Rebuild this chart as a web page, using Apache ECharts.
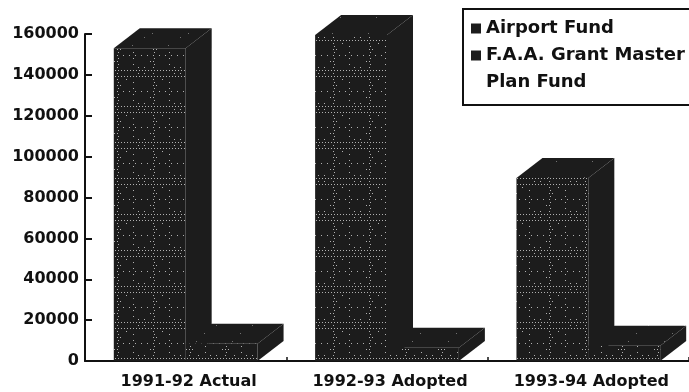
<!DOCTYPE html>
<html>
<head>
<meta charset="utf-8">
<script src="https://cdn.jsdelivr.net/npm/echarts@6/dist/echarts.min.js"></script>
<style>
  html, body { margin: 0; padding: 0; background: #fff; }
  #chart { width: 689px; height: 392px; }
</style>
</head>
<body>
<div id="chart"></div>
<script>
// Budget by fiscal year
const categories = ['1991-92 Actual', '1992-93 Adopted', '1993-94 Adopted'];
const airportFund = [153000, 159500, 89500];
const faaGrantFund = [8500, 6500, 7500];
const seriesNames = ['Airport Fund', 'F.A.A. Grant Master Plan Fund'];
const yMin = 0;
const yMax = 160000;
const yStep = 20000;

// 3D look: depth offset of the bar tops/sides and share of the band per bar
const DEPTH_X = 26;
const DEPTH_Y = 20;
const BAR_RATIO = 0.357;
const INK = '#111';
const BAR_DARK = '#1c1c1c';
const FONT = 'DejaVu Sans';

// Halftone-like stipple texture on the dark bar faces
function stipple(size, step, keep, dotColor) {
  const c = document.createElement('canvas');
  c.width = c.height = size;
  const g = c.getContext('2d');
  g.fillStyle = BAR_DARK;
  g.fillRect(0, 0, size, size);
  g.fillStyle = dotColor;
  const n = Math.floor(size / step);
  for (let j = 0; j < n; j++) {
    for (let i = 0; i < n; i++) {
      if (((i * 7 + j * 11 + i * j * 3) % 10) < keep) {
        g.fillRect(i * step + (j % 2), j * step + 1, 1, 1);
      }
    }
  }
  return { image: c, repeat: 'repeat' };
}
const frontFill = stipple(36, 3, 2, 'rgba(215,215,215,0.8)');
const faaFrontFill = stipple(36, 3, 3, 'rgba(215,215,215,0.8)');
const topFill = stipple(36, 4, 1, 'rgba(200,200,200,0.5)');

function bar3d(side, front) {
  return function (params, api) {
    const cat = api.value(0);
    const top = api.coord([cat, api.value(1)]);
    const base = api.coord([cat, 0]);
    const band = api.size([1, 0])[0];
    const w = band * BAR_RATIO;
    const x0 = side === 0 ? top[0] - w : top[0];
    const x1 = x0 + w;
    const yt = top[1];
    const yb = base[1];
    return {
      type: 'group',
      children: [
        {
          type: 'polygon',
          shape: { points: [[x1, yt], [x1 + DEPTH_X, yt - DEPTH_Y], [x1 + DEPTH_X, yb - DEPTH_Y], [x1, yb]] },
          style: { fill: BAR_DARK }
        },
        {
          type: 'polygon',
          shape: { points: [[x0, yt], [x0 + DEPTH_X, yt - DEPTH_Y], [x1 + DEPTH_X, yt - DEPTH_Y], [x1, yt]] },
          style: { fill: topFill }
        },
        {
          type: 'rect',
          shape: { x: x0, y: yt, width: w, height: yb - yt },
          style: { fill: front }
        }
      ]
    };
  };
}

const chart = echarts.init(document.getElementById('chart'), null, { renderer: 'canvas' });
chart.setOption({
  animation: false,
  backgroundColor: '#fff',
  grid: { left: 85, right: -2, top: 34, bottom: 31, containLabel: false },
  legend: {
    left: 463,
    top: 9,
    orient: 'vertical',
    data: seriesNames,
    icon: 'rect',
    itemWidth: 10,
    itemHeight: 10,
    itemGap: -27,
    padding: [6, 40, 9, 8],
    borderColor: INK,
    borderWidth: 2,
    selectedMode: false,
    formatter: function (name) {
      return name === seriesNames[1] ? '\nF.A.A. Grant Master\nPlan Fund' : name;
    },
    textStyle: { fontFamily: FONT, fontWeight: 'bold', fontSize: 18, lineHeight: 27, color: INK }
  },
  xAxis: {
    type: 'category',
    data: categories,
    boundaryGap: true,
    axisLine: { show: true, lineStyle: { color: INK, width: 2 } },
    axisTick: { show: true, inside: true, length: 4, lineStyle: { color: INK, width: 1.5 } },
    axisLabel: {
      interval: 0,
      hideOverlap: false,
      margin: 13,
      padding: [0, 0, 0, 6],
      fontFamily: FONT, fontWeight: 'bold', fontSize: 16, color: INK
    },
    splitLine: { show: false }
  },
  yAxis: {
    type: 'value',
    min: yMin,
    max: yMax,
    interval: yStep,
    axisLine: { show: true, lineStyle: { color: INK, width: 2 } },
    axisTick: { show: true, inside: true, length: 7, lineStyle: { color: INK, width: 2 } },
    axisLabel: {
      margin: 6,
      formatter: function (v) { return String(v); },
      fontFamily: FONT, fontWeight: 'bold', fontSize: 16, color: INK
    },
    splitLine: { show: false }
  },
  series: [
    {
      name: seriesNames[0],
      type: 'custom',
      z: 2,
      clip: false,
      itemStyle: { color: BAR_DARK },
      encode: { x: 0, y: 1 },
      renderItem: bar3d(0, frontFill),
      data: airportFund.map((v, i) => [i, v])
    },
    {
      name: seriesNames[1],
      type: 'custom',
      z: 3,
      clip: false,
      itemStyle: { color: BAR_DARK },
      encode: { x: 0, y: 1 },
      renderItem: bar3d(1, faaFrontFill),
      data: faaGrantFund.map((v, i) => [i, v])
    }
  ]
});
</script>
</body>
</html>
